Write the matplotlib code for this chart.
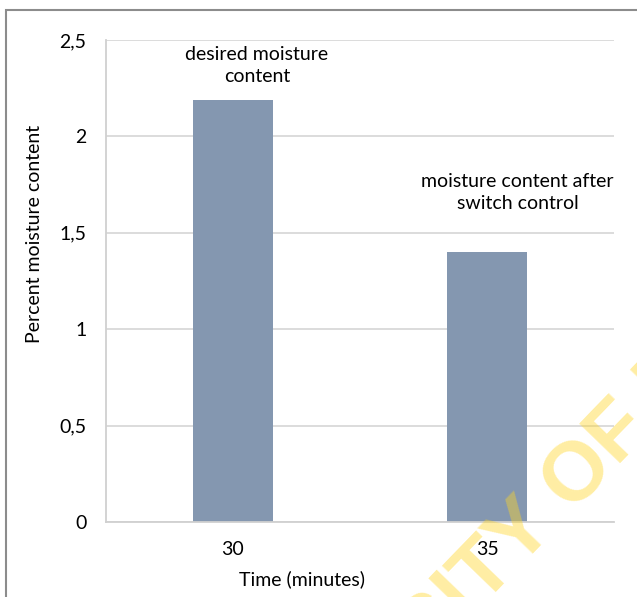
import matplotlib.pyplot as plt
from matplotlib.patches import Rectangle

# moisture readings
categories = ['30', '35']
moisture = [2.19, 1.40]
notes = ['desired moisture\ncontent', 'moisture content after\nswitch control']
yticks = [0, 0.5, 1, 1.5, 2, 2.5]
ytick_labels = ['0', '0,5', '1', '1,5', '2', '2,5']

plt.rcParams['font.family'] = ['Lato', 'DejaVu Sans']
plt.rcParams['font.size'] = 14

fig = plt.figure(figsize=(6.37, 5.97), dpi=100)
ax = fig.add_axes([0.1664, 0.1256, 0.7975, 0.8074])

x = range(len(categories))
ax.bar(x, moisture, width=0.315, color='#8497B0', zorder=2)

# labels sitting above each bar
ax.text(0 + 0.094, moisture[0] + 0.18, notes[0], ha='center', va='center', linespacing=1.35)
ax.text(1 + 0.12, moisture[1] + 0.31, notes[1], ha='center', va='center', linespacing=1.35)

ax.set_xlim(-0.5, 1.5)
ax.set_ylim(0, 2.5)
ax.set_xticks(list(x))
ax.set_xticklabels(categories)
ax.set_yticks(yticks)
ax.set_yticklabels(ytick_labels)
ax.tick_params(length=0, pad=14)
ax.yaxis.grid(True, color='#D9D9D9', linewidth=1.3, zorder=0)
ax.set_axisbelow(True)
for side in ['top', 'right']:
    ax.spines[side].set_visible(False)
ax.spines['left'].set_color('#D0D0D0')
ax.spines['bottom'].set_color('#D0D0D0')
ax.spines['left'].set_linewidth(1.3)
ax.spines['bottom'].set_linewidth(1.3)

fig.text(35 / 637, 1 - 234 / 597, 'Percent moisture content', rotation=90,
         ha='center', va='center')
fig.text(302 / 637, 1 - 579 / 597, 'Time (minutes)', ha='center', va='center')

# outer frame
fig.patches.append(Rectangle((6.5 / 637, -0.1), 1.2, 1 - 9.5 / 597 + 0.1,
                             transform=fig.transFigure, fill=False,
                             edgecolor='#8C8C8C', linewidth=1.5))

# watermark
wm = dict(rotation=46, rotation_mode='anchor', va='baseline', fontsize=60,
          family='Liberation Sans', weight='bold', color=(1.0, 0.84, 0.15),
          alpha=0.42, zorder=10)
fig.text(428 / 637, (597 - 662) / 597, 'UNIVER', ha='right', **wm)
fig.text(428 / 637, (597 - 662) / 597, 'SITY OF IBADAN', ha='left', **wm)

fig.savefig('out.png', dpi=100)
